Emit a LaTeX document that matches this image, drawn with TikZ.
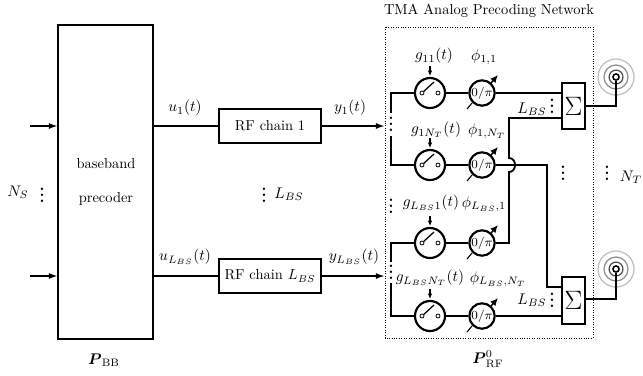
\documentclass[tikz,border=0pt]{standalone}
\usepackage{amsmath,amssymb,graphicx}
\usetikzlibrary{arrows.meta}
\newcommand{\rmtxt}[1]{\scalebox{.94}{#1}}
\newcommand{\mydots}{\vbox{\baselineskip 3.9pt \lineskiplimit 0pt \hbox{\bfseries .}\hbox{\bfseries .}\hbox{\bfseries .}}}
\tikzset{
  wire/.style={line width=1.2pt},
  arr/.style={wire,-{Latex[length=6pt,width=4pt]}},
  blockbox/.style={draw,line width=1.3pt,fill=white,inner sep=0pt},
  swc/.style={draw,circle,line width=1.4pt,minimum size=19.5pt,inner sep=0pt,fill=white},
  phc/.style={draw,circle,line width=1.4pt,minimum size=16.5pt,inner sep=0pt,fill=white,font=\footnotesize},
  contact/.style={draw,circle,line width=.5pt,minimum size=2.6pt,inner sep=0pt,fill=white},
  lab/.style={inner sep=0pt},
  ring/.style={draw=#1,circle,line width=.8pt,inner sep=0pt,fill=none},
  thinarr/.style={line width=.7pt,-{Latex[length=3.5pt,width=3pt]}}
}
\newcommand{\swunit}[3]{% name, x, y
  \node[swc] (#1) at (#2,#3) {};
  \node[contact] (#1a) at (#2-8,#3) {};
  \node[contact] (#1b) at (#2+8,#3) {};
  \coordinate (#1t) at (#2+4,#3-11);
  \draw[line width=.8pt] (#1a) -- (#1t);
  \coordinate (#1c) at (#2,#3-27);
  \draw[thinarr] (#1c) -- (#2,#3-17);
}
\newcommand{\phunit}[3]{% name, x, y
  \node[phc] (#1) at (#2,#3) {$0/\pi$};
  \coordinate (#1p) at (#2-15,#3+16);
  \coordinate (#1q) at (#2-10,#3+10);
  \draw[line width=.7pt] (#1p) -- (#1q);
  \coordinate (#1r) at (#2+9,#3-10);
  \coordinate (#1s) at (#2+16,#3-18);
  \draw[line width=1pt,-{Latex[length=5pt,width=4.5pt]}] (#1r) -- (#1s);
}
\newcommand{\antenna}[3]{% name, x, y
  \node[ring=black!25,minimum size=23.4pt] (#1o) at (#2,#3) {};
  \node[ring=black!45,minimum size=15.6pt] (#1m) at (#2,#3) {};
  \node[ring=black!70,minimum size=9pt] (#1n) at (#2,#3) {};
  \node[circle,draw,line width=1pt,fill=white,minimum size=4pt,inner sep=0pt] (#1) at (#2,#3) {};
}
\begin{document}
\begin{tikzpicture}[x=0.65pt,y=-0.65pt]
\useasboundingbox (0,0) rectangle (643,375);
% dotted frame
\node[lab] (title) at (489,11) {\rmtxt{TMA Analog Precoding Network}};
\draw[densely dotted,line width=.6pt] (385,27) rectangle (593,338);
% baseband
\draw[blockbox] (58,25) rectangle (153,339);
\coordinate (bbE1) at (153,126);
\coordinate (bbE2) at (153,276);
\coordinate (bbW1) at (58,126);
\coordinate (bbW2) at (58,276);
\coordinate (in1) at (30,126);
\coordinate (in2) at (30,276);
\draw[arr] (in1) -- (bbW1);
\draw[arr] (in2) -- (bbW2);
\node[lab] (bb1) at (106,164) {\rmtxt{baseband}};
\node[lab] (bb2) at (106,199) {\rmtxt{precoder}};
\node[lab] (ns) at (18,192) {$N_S$};
\node[lab] (nsd) at (42,195) {\mydots};
\node[lab] (pbb) at (104,360) {$\boldsymbol{P}_{\mathrm{BB}}$};
% RF chains
\node[blockbox,minimum width=66.3pt,minimum height=21.5pt] (rf1) at (270,126) {\rmtxt{RF chain 1}};
\node[blockbox,minimum width=66.3pt,minimum height=21.5pt] (rf2) at (270,276) {\rmtxt{RF chain} \rmtxt{$L_{BS}$}};
\coordinate (out1) at (385,126);
\coordinate (out2) at (385,276);
\draw[wire] (bbE1) -- (rf1.west);
\draw[wire] (bbE2) -- (rf2.west);
\draw[arr] (rf1.east) -- (out1);
\draw[arr] (rf2.east) -- (out2);
\node[lab] (u1) at (185,108) {$u_1(t)$};
\node[lab] (y1) at (350,108) {$y_1(t)$};
\node[lab] (uL) at (185,257) {$u_{L_{BS}}(t)$};
\node[lab] (yL) at (354,257) {$y_{L_{BS}}(t)$};
\node[lab] (ld) at (264,195) {\mydots};
\node[lab] (lbs) at (289,194) {$L_{BS}$};
% switches and phase shifters
\swunit{s1}{430}{93}
\swunit{s2}{430}{165}
\swunit{s3}{430}{243}
\swunit{s4}{430}{316}
\phunit{p1}{482}{93}
\phunit{p2}{482}{165}
\phunit{p3}{482}{243}
\phunit{p4}{482}{316}
% sum boxes
\node[blockbox,minimum width=15pt,minimum height=30pt,font=\LARGE] (sum1) at (573.5,106) {$\Sigma$};
\node[blockbox,minimum width=15pt,minimum height=30pt,font=\LARGE] (sum2) at (573.5,300.5) {$\Sigma$};
% left buses
\coordinate (b1t) at (391,93);
\coordinate (b1m) at (391,113);
\coordinate (b1n) at (391,136);
\coordinate (b1b) at (391,165);
\coordinate (b2t) at (391,243);
\coordinate (b2m) at (391,262);
\coordinate (b2n) at (391,283);
\coordinate (b2b) at (391,316);
\draw[wire] (b1m) -- (b1t) -- (s1.west);
\draw[wire] (b1n) -- (b1b) -- (s2.west);
\draw[wire] (b2m) -- (b2t) -- (s3.west);
\draw[wire] (b2n) -- (b2b) -- (s4.west);
\foreach \n in {1,2,3,4}{\draw[wire] (s\n.east) -- (p\n.west);}
\node[lab] (bd1) at (391,124) {\mydots};
\node[lab] (bd2) at (391,272) {\mydots};
\node[lab] (bd3) at (391,206) {\mydots};
% phase to sum
\coordinate (j1) at (509,118);
\coordinate (j2) at (509,158);
\coordinate (j3) at (509,172);
\coordinate (j4) at (509,243);
\coordinate (k1) at (547,165);
\coordinate (k2) at (547,287);
\draw[wire] (p1.east) -- (sum1.west |- p1.east);
\draw[wire] (p4.east) -- (sum2.west |- p4.east);
\draw[wire] (p2.east) -- (k1) -- (k2) -- (sum2.west |- k2);
\draw[wire] (p3.east) -- (j4) -- (j3) .. controls (517,172) and (517,158) .. (j2) -- (j1) -- (sum1.west |- j1);
% antennas
\antenna{a1}{616}{77}
\antenna{a2}{616}{269}
\coordinate (ac1) at (616,106);
\coordinate (ac2) at (616,299);
\draw[wire] (a1) -- (ac1) -- (sum1.east |- ac1);
\draw[wire] (a2) -- (ac2) -- (sum2.east |- ac2);
% labels
\node[lab] (g1) at (434,56) {$g_{11}(t)$};
\node[lab] (f1) at (484,57) {$\phi_{1,1}$};
\node[lab] (g2) at (436,130) {$g_{1N_T}(t)$};
\node[lab] (f2) at (487,131) {$\phi_{1,N_T}$};
\node[lab] (g3) at (431,203) {$g_{L_{BS}1}(t)$};
\node[lab] (f3) at (484,204) {$\phi_{L_{BS},1}$};
\node[lab] (g4) at (430,278) {$g_{L_{BS}N_T}(t)$};
\node[lab] (f4) at (498,279) {$\phi_{L_{BS},N_T}$};
\node[lab] (l1) at (532,109) {$L_{BS}$};
\node[lab] (l1d) at (552,106) {\mydots};
\node[lab] (l2) at (532,300) {$L_{BS}$};
\node[lab] (l2d) at (552,300) {\mydots};
\node[lab] (md) at (563,173) {\mydots};
\node[lab] (nd) at (607,173) {\mydots};
\node[lab] (nt) at (631,177) {$N_T$};
\node[lab] (prf) at (488,359) {$\boldsymbol{P}_{\mathrm{RF}}^{0}$};
\end{tikzpicture}
\end{document}
